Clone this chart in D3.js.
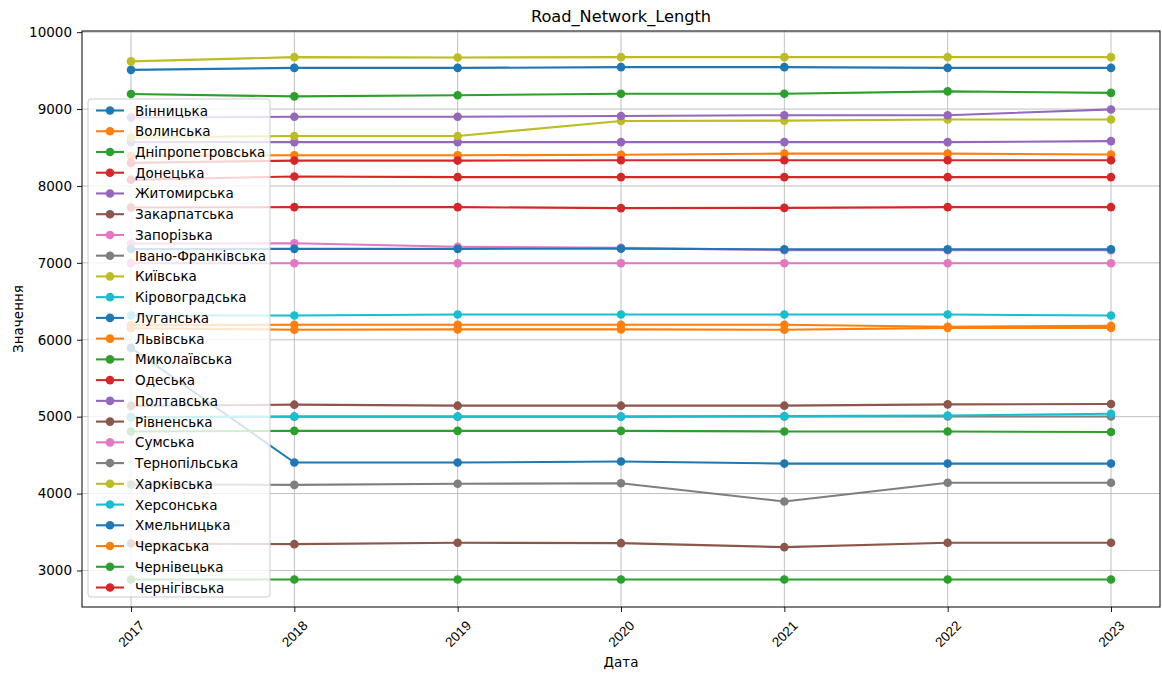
<!DOCTYPE html>
<html>
<head>
<meta charset="utf-8">
<script src="https://cdn.jsdelivr.net/npm/d3@7"></script>
<style>
  html, body { margin: 0; padding: 0; background: #fff; }
  svg { display: block; font-family: "DejaVu Sans", sans-serif; }
</style>
</head>
<body>
<svg id="chart" width="1162" height="673"></svg>
<script>
// ---- data ----
const years = [2017, 2018, 2019, 2020, 2021, 2022, 2023];
const yTicks = [3000, 4000, 5000, 6000, 7000, 8000, 9000, 10000];

const vinnytska      = [9510, 9535, 9535, 9545, 9545, 9535, 9535];
const volynska       = [6190, 6195, 6195, 6195, 6195, 6170, 6180];
const dnipropetrovska= [9195, 9165, 9180, 9200, 9200, 9230, 9210];
const donetska       = [8080, 8123, 8115, 8115, 8115, 8115, 8115];
const zhytomyrska    = [8570, 8570, 8570, 8570, 8570, 8570, 8583];
const zakarpatska    = [3350, 3342, 3360, 3355, 3303, 3360, 3360];
const zaporizka      = [7250, 7255, 7210, 7195, 7165, 7165, 7165];
const ivanoFrankivska= [4117, 4113, 4127, 4135, 3897, 4140, 4140];
const kyivska        = [8630, 8650, 8650, 8845, 8850, 8865, 8865];
const kirovohradska  = [6316, 6316, 6328, 6328, 6328, 6328, 6316];
const luhanska       = [5895, 4404, 4404, 4417, 4390, 4390, 4390];
const lvivska        = [8390, 8400, 8400, 8405, 8420, 8420, 8410];
const mykolaivska    = [4808, 4815, 4815, 4815, 4808, 4808, 4800];
const odeska         = [8300, 8330, 8330, 8335, 8335, 8335, 8335];
const poltavska      = [8890, 8900, 8900, 8910, 8920, 8920, 8995];
const rivnenska      = [5140, 5156, 5143, 5143, 5143, 5160, 5165];
const sumska         = [6995, 6995, 6995, 6995, 6995, 6995, 6995];
const ternopilska    = [4995, 5000, 5000, 5000, 5003, 5003, 5003];
const kharkivska     = [9620, 9675, 9670, 9675, 9675, 9675, 9675];
const khersonska     = [4990, 5003, 5003, 5003, 5007, 5016, 5038];
const khmelnytska    = [7180, 7182, 7182, 7185, 7175, 7175, 7175];
const cherkaska      = [6150, 6130, 6135, 6135, 6130, 6155, 6155];
const chernivetska   = [2883, 2883, 2883, 2883, 2883, 2883, 2883];
const chernihivska   = [7720, 7725, 7725, 7712, 7715, 7725, 7725];

const regionNames = ["Вінницька","Волинська","Дніпропетровська","Донецька","Житомирська",
  "Закарпатська","Запорізька","Івано-Франківська","Київська","Кіровоградська","Луганська",
  "Львівська","Миколаївська","Одеська","Полтавська","Рівненська","Сумська","Тернопільська",
  "Харківська","Херсонська","Хмельницька","Черкаська","Чернівецька","Чернігівська"];
const regionValues = [vinnytska, volynska, dnipropetrovska, donetska, zhytomyrska,
  zakarpatska, zaporizka, ivanoFrankivska, kyivska, kirovohradska, luhanska,
  lvivska, mykolaivska, odeska, poltavska, rivnenska, sumska, ternopilska,
  kharkivska, khersonska, khmelnytska, cherkaska, chernivetska, chernihivska];

const palette = ["#1f77b4","#ff7f0e","#2ca02c","#d62728","#9467bd",
                 "#8c564b","#e377c2","#7f7f7f","#bcbd22","#17becf"];

// ---- layout ----
const svg = d3.select("#chart");
const L = 82, R = 1160, T = 31, B = 607;

const x = d3.scaleLinear().domain([2016.7, 2023.3]).range([L, R]);
const y = d3.scaleLinear().domain([2525, 10015]).range([B, T]);

// grid
const grid = svg.append("g");
grid.selectAll("line.gx").data(years).join("line")
  .attr("x1", d => x(d)).attr("x2", d => x(d))
  .attr("y1", T).attr("y2", B)
  .attr("stroke", "#b0b0b0").attr("stroke-width", 0.8);
grid.selectAll("line.gy").data(yTicks).join("line")
  .attr("x1", L).attr("x2", R)
  .attr("y1", d => y(d)).attr("y2", d => y(d))
  .attr("stroke", "#b0b0b0").attr("stroke-width", 0.8);

// series
const line = d3.line().x((d, i) => x(years[i])).y(d => y(d));
const series = svg.append("g");
regionValues.forEach((vals, k) => {
  const c = palette[k % 10];
  const g = series.append("g");
  g.append("path").datum(vals)
    .attr("d", line).attr("fill", "none")
    .attr("stroke", c).attr("stroke-width", 2.1)
    .attr("stroke-linejoin", "round").attr("stroke-linecap", "square");
  g.selectAll("circle").data(vals).join("circle")
    .attr("cx", (d, i) => x(years[i])).attr("cy", d => y(d))
    .attr("r", 4.3).attr("fill", c);
});

// axes
const xAxis = d3.axisBottom(x).tickValues(years).tickFormat(d3.format("d")).tickSize(5).tickPadding(0);
const gx = svg.append("g").attr("transform", `translate(0,${B})`).call(xAxis);
gx.select(".domain").remove();
gx.selectAll(".tick line").attr("stroke", "#000").attr("stroke-width", 0.9);
gx.selectAll(".tick text").remove();
gx.selectAll(".tick").append("text")
  .attr("transform", "translate(0,27) rotate(-45)")
  .attr("text-anchor", "middle").attr("dominant-baseline", "central")
  .attr("fill", "#000").attr("font-size", 13.5)
  .text(d => d);

const yAxis = d3.axisLeft(y).tickValues(yTicks).tickFormat(d3.format("d")).tickSize(5).tickPadding(5);
const gy = svg.append("g").attr("transform", `translate(${L},0)`).call(yAxis);
gy.select(".domain").remove();
gy.selectAll(".tick line").attr("stroke", "#000").attr("stroke-width", 0.9);
gy.selectAll(".tick text").attr("fill", "#000").attr("font-size", 13.5)
  .attr("font-family", "DejaVu Sans, sans-serif");

// frame
svg.append("rect").attr("x", L).attr("y", T).attr("width", R - L).attr("height", B - T)
  .attr("fill", "none").attr("stroke", "#000").attr("stroke-width", 1);

// legend
const lg = svg.append("g");
const lx = 88, ly = 99, lw = 182, rowH = 20.74, firstRow = 110.5;
lg.append("rect").attr("x", lx).attr("y", ly).attr("width", lw)
  .attr("height", 498).attr("rx", 3)
  .attr("fill", "#fff").attr("fill-opacity", 0.8)
  .attr("stroke", "#cccccc").attr("stroke-width", 1);
regionNames.forEach((name, k) => {
  const c = palette[k % 10];
  const cy = firstRow + k * rowH;
  lg.append("line").attr("x1", 96).attr("x2", 124).attr("y1", cy).attr("y2", cy)
    .attr("stroke", c).attr("stroke-width", 2.1);
  lg.append("circle").attr("cx", 110).attr("cy", cy).attr("r", 4.3).attr("fill", c);
  lg.append("text").attr("x", 135).attr("y", cy).attr("dominant-baseline", "central")
    .attr("font-size", 13.5).attr("fill", "#000").text(name);
});

// titles
svg.append("text").attr("x", (L + R) / 2).attr("y", 16).attr("text-anchor", "middle")
  .attr("dominant-baseline", "central").attr("font-size", 16.2).attr("fill", "#000")
  .text("Road_Network_Length");
svg.append("text").attr("x", (L + R) / 2).attr("y", 662).attr("text-anchor", "middle")
  .attr("dominant-baseline", "central").attr("font-size", 13.5).attr("fill", "#000")
  .text("Дата");
svg.append("text").attr("transform", `translate(18,${(T + B) / 2}) rotate(-90)`)
  .attr("text-anchor", "middle").attr("dominant-baseline", "central")
  .attr("font-size", 13.5).attr("fill", "#000").text("Значення");
</script>
</body>
</html>
